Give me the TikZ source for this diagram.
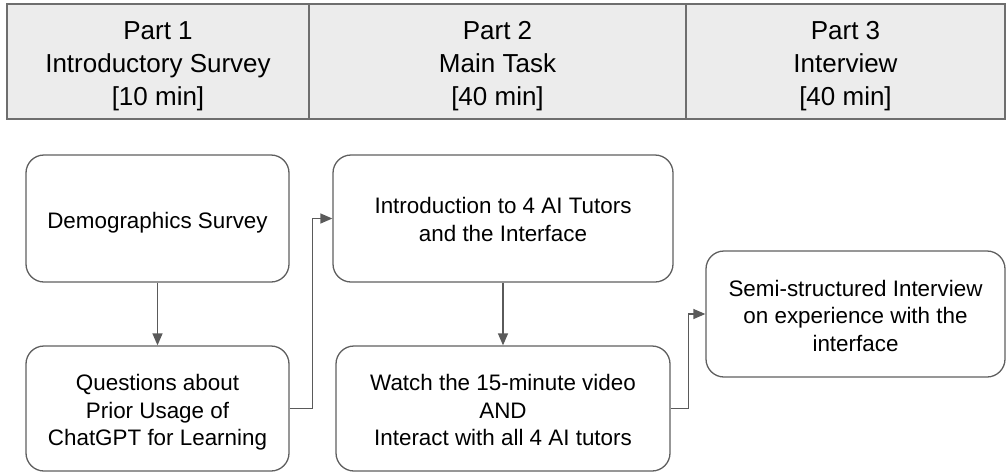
\documentclass[tikz,border=0pt]{standalone}
\usepackage{fontspec}
\setmainfont{Liberation Sans}
\usetikzlibrary{arrows.meta}
\definecolor{hdrfill}{RGB}{236,236,236}
\definecolor{hdrline}{RGB}{110,110,110}
\definecolor{boxline}{RGB}{95,95,95}
\definecolor{arrline}{RGB}{90,90,90}
\tikzset{
  hdr/.style={draw=hdrline, fill=hdrfill, line width=1.5pt, inner sep=0pt,
    minimum height=115pt},
  hdrtext/.style={align=center, font=\fontsize{26}{33}\selectfont, inner sep=0pt},
  stepbox/.style={draw=boxline, line width=1.3pt, rounded corners=18pt, inner sep=0pt},
  steptext/.style={align=center, font=\fontsize{22.4}{27.5}\selectfont, inner sep=0pt},
  arr/.style={draw=arrline, line width=1.3pt, -{Triangle[length=12pt,width=10pt]}}
}
\begin{document}
\begin{tikzpicture}[x=1pt,y=-1pt]
\useasboundingbox (0,0) rectangle (1006,472);
% header
\node[hdr, minimum width=302pt,
  label={[hdrtext, yshift=-5pt]center:Part 1\\Introductory Survey\\{}[10 min]}] (h1) at (158,61.5) {};
\node[hdr, minimum width=377pt,
  label={[hdrtext, yshift=-5pt]center:Part 2\\Main Task\\{}[40 min]}] (h2) at (497.5,61.5) {};
\node[hdr, minimum width=319pt,
  label={[hdrtext, yshift=-5pt]center:Part 3\\Interview\\{}[40 min]}] (h3) at (845.5,61.5) {};
% boxes
\node[stepbox, minimum width=263pt, minimum height=127pt,
  label={[steptext, yshift=-4.5pt]center:Demographics Survey}] (a) at (157.5,218.5) {};
\node[stepbox, minimum width=263pt, minimum height=125pt,
  label={[steptext, yshift=-4pt]center:Questions about\\Prior Usage of\\ChatGPT for Learning}] (b) at (157.5,408.5) {};
\node[stepbox, minimum width=340pt, minimum height=127pt,
  label={[steptext, yshift=-1pt]center:Introduction to 4 AI Tutors\\and the Interface}] (c) at (503,218.5) {};
\node[stepbox, minimum width=334pt, minimum height=125pt,
  label={[steptext, yshift=-1.5pt]center:Watch the 15-minute video\\AND\\Interact with all 4 AI tutors}] (d) at (503,408.5) {};
\node[stepbox, minimum width=299pt, minimum height=126pt,
  label={[steptext, yshift=-1.5pt]center:Semi-structured Interview\\on experience with the\\interface}] (e) at (855.5,314) {};
% connectors
\draw[arr] (a.south) -- (b.north);
\draw[arr] (c.south) -- (d.north);
\draw[arr] (b.east) -- ++(23,0) |- (c.west);
\draw[arr] (d.east) -- ++(18,0) |- (e.west);
\end{tikzpicture}
\end{document}
